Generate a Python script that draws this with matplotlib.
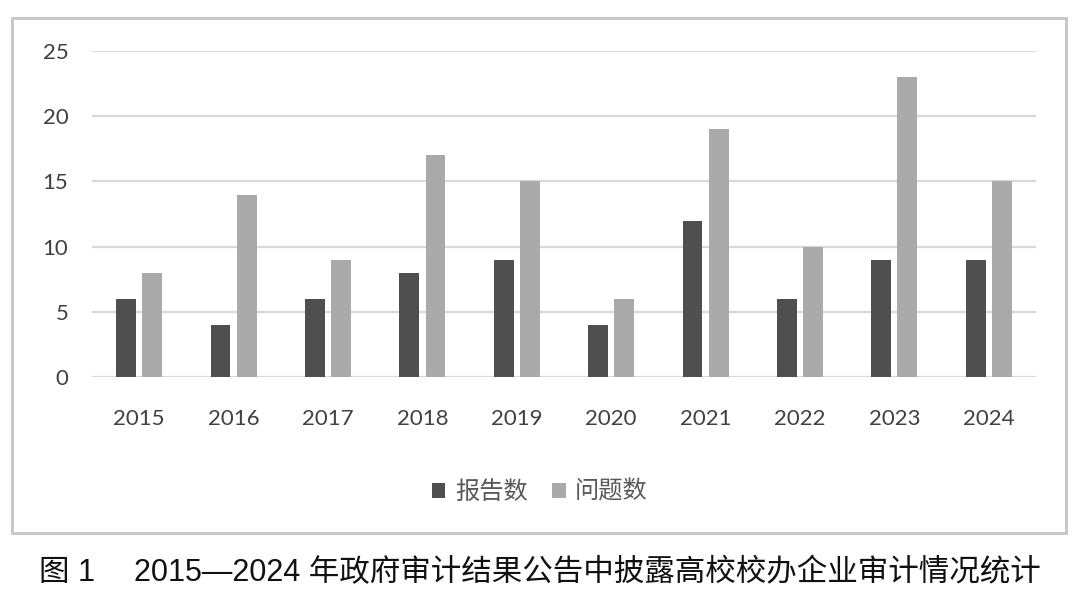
import matplotlib
matplotlib.use("Agg")
import matplotlib.pyplot as plt
from matplotlib.patches import Rectangle
import numpy as np

plt.rcParams['font.family'] = ['Lato', 'Noto Sans CJK SC', 'DejaVu Sans']

years = ["2015", "2016", "2017", "2018", "2019", "2020", "2021", "2022", "2023", "2024"]
reports = [6, 4, 6, 8, 9, 4, 12, 6, 9, 9]
issues = [8, 14, 9, 17, 15, 6, 19, 10, 23, 15]
series_names = ["报告数", "问题数"]
caption = "图 1\u3000 2015—2024 年政府审计结果公告中披露高校校办企业审计情况统计"

dark = "#4f4f4f"
light = "#aaaaaa"

fig = plt.figure(figsize=(10.8, 6.09), dpi=100)
ax = fig.add_axes([0.0852, 0.381, 0.874, 0.535])

x = np.arange(len(years))
w = 0.21
ax.bar(x - 0.138, reports, w, color=dark, label=series_names[0], zorder=3)
ax.bar(x + 0.138, issues, w, color=light, label=series_names[1], zorder=3)

ax.set_xlim(-0.5, len(years) - 0.5)
ax.set_ylim(0, 25)
ax.set_yticks(range(0, 26, 5))
ax.set_xticks(x)
ax.set_xticklabels(years)
ax.grid(axis='y', color='#d9d9d9', linewidth=1.6, zorder=0)
for s in ax.spines.values():
    s.set_visible(False)
ax.tick_params(length=0, labelsize=16, colors='#404040')
ax.tick_params(axis='x', pad=23)
ax.tick_params(axis='y', pad=17)

leg = ax.legend(loc='center', bbox_to_anchor=(0.5, 1 - 492 / 609), bbox_transform=fig.transFigure,
                ncol=2, frameon=False, handlelength=0.55, handleheight=0.55,
                handletextpad=0.4, columnspacing=1.0,
                prop={'family': ['Noto Sans CJK SC', 'DejaVu Sans'], 'size': 17.5, 'weight': 'light'})
for t in leg.get_texts():
    t.set_color('#595959')

# chart border
fig.patches.append(Rectangle((12 / 1080, 1 - 533 / 609), (1066 - 12) / 1080, (533 - 18) / 609,
                             transform=fig.transFigure, fill=False, edgecolor='#c8c8c8',
                             linewidth=2.2))

fig.text(0.5, 1 - 573 / 609, caption, ha='center', va='center', fontsize=22,
         family=['Liberation Sans', 'Noto Sans CJK SC', 'DejaVu Sans'], weight='medium',
         color='#111111')

fig.savefig("out.png", dpi=100)
